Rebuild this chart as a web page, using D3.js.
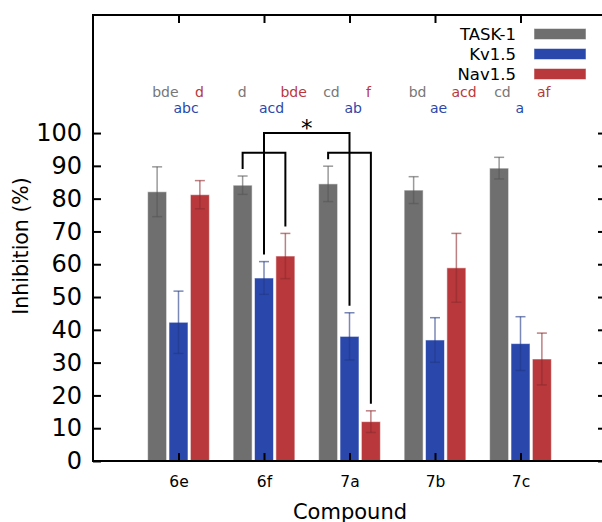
<!DOCTYPE html>
<html>
<head>
<meta charset="utf-8">
<script src="https://cdn.jsdelivr.net/npm/d3@7"></script>
<style>
  body { margin: 0; background: #fff; }
  text { font-family: "DejaVu Sans", sans-serif; }
</style>
</head>
<body>
<div id="chart"></div>
<script>
// compounds on the x axis
const compounds = ["6e", "6f", "7a", "7b", "7c"];
const seriesNames = ["TASK-1", "Kv1.5", "Nav1.5"];
const seriesColors = ["#6f6f6f", "#2a48ac", "#b8383b"];

// mean inhibition (%) and error per series
const task1 = [82.1, 84.1, 84.5, 82.6, 89.3];
const task1Err = [7.6, 2.8, 5.4, 4.1, 3.3];
const kv15 = [42.3, 55.8, 38.0, 36.9, 35.8];
const kv15Err = [9.5, 5.0, 7.2, 6.8, 8.2];
const nav15 = [81.2, 62.5, 12.0, 58.9, 31.1];
const nav15Err = [4.3, 6.9, 3.3, 10.5, 7.9];

// significance letters
const task1Letters = ["bde", "d", "cd", "bd", "cd"];
const kv15Letters = ["abc", "acd", "ab", "ae", "a"];
const nav15Letters = ["d", "bde", "f", "acd", "af"];

const yTicks = [0, 10, 20, 30, 40, 50, 60, 70, 80, 90, 100];

// brackets: [compound, series] -> [compound, series], bracket level (%)
const brackets = [
  { from: [1, 0], to: [1, 2], level: 94, star: false },
  { from: [2, 0], to: [2, 2], level: 94, star: false },
  { from: [1, 1], to: [2, 1], level: 100, star: true }
];

const W = 602, H = 522;
const mLeft = 93, mRight = 606, mTop = 15, mBottom = 461;

const svg = d3.select("#chart").append("svg")
  .attr("width", W)
  .attr("height", H);

const x = d3.scaleLinear().domain([0, 6]).range([mLeft, mRight]);
const y = d3.scaleLinear().domain([0, 136]).range([mBottom, mTop]);

const values = [task1, kv15, nav15];
const errs = [task1Err, kv15Err, nav15Err];
const letters = [task1Letters, kv15Letters, nav15Letters];
const offset = 0.25;               // series offset in category units
const barW = x(0.222) - x(0);

function barX(ci, si) { return x(ci + 1 + (si - 1) * offset); }

const bars = [];
values.forEach((vals, si) => {
  vals.forEach((v, ci) => bars.push({ ci, si, v, e: errs[si][ci] }));
});

// bars
svg.append("g").selectAll("rect")
  .data(bars)
  .join("rect")
  .attr("x", d => barX(d.ci, d.si) - barW / 2)
  .attr("y", d => y(d.v))
  .attr("width", barW)
  .attr("height", d => y(0) - y(d.v))
  .attr("fill", d => seriesColors[d.si])
  .attr("stroke", "#fff")
  .attr("stroke-opacity", 0.55)
  .attr("stroke-width", 1);

// error bars
const eg = svg.append("g").selectAll("g")
  .data(bars)
  .join("g")
  .attr("stroke", d => d3.color(seriesColors[d.si]).darker(0.7))
  .attr("stroke-opacity", 0.6)
  .attr("stroke-width", 1.5);
eg.append("line")
  .attr("x1", d => barX(d.ci, d.si)).attr("x2", d => barX(d.ci, d.si))
  .attr("y1", d => y(d.v + d.e)).attr("y2", d => y(d.v - d.e));
eg.append("line")
  .attr("x1", d => barX(d.ci, d.si) - 5).attr("x2", d => barX(d.ci, d.si) + 5)
  .attr("y1", d => y(d.v + d.e)).attr("y2", d => y(d.v + d.e));
eg.append("line")
  .attr("x1", d => barX(d.ci, d.si) - 5).attr("x2", d => barX(d.ci, d.si) + 5)
  .attr("y1", d => y(d.v - d.e)).attr("y2", d => y(d.v - d.e));

// axes
svg.append("g")
  .attr("transform", `translate(${mLeft},0)`)
  .call(d3.axisLeft(y).tickValues(yTicks).tickSize(-8).tickPadding(11))
  .call(g => g.select(".domain").remove())
  .call(g => g.selectAll("line").attr("stroke-width", 2))
  .call(g => g.selectAll("text").attr("font-size", 24).attr("font-family", "DejaVu Sans").attr("fill", "#000"));

svg.append("g")
  .attr("transform", `translate(${mRight},0)`)
  .call(d3.axisRight(y).tickValues(yTicks).tickSize(-8).tickFormat(""))
  .call(g => g.select(".domain").remove())
  .call(g => g.selectAll("line").attr("stroke-width", 2));

const xTickVals = compounds.map((c, i) => i + 1);
svg.append("g")
  .attr("transform", `translate(0,${mBottom})`)
  .call(d3.axisBottom(x).tickValues(xTickVals).tickSize(-8).tickPadding(15)
    .tickFormat((d, i) => compounds[i]))
  .call(g => g.select(".domain").remove())
  .call(g => g.selectAll("line").attr("stroke-width", 2))
  .call(g => g.selectAll("text").attr("font-size", 15.5).attr("font-family", "DejaVu Sans").attr("fill", "#000"));

svg.append("g")
  .attr("transform", `translate(0,${mTop})`)
  .call(d3.axisTop(x).tickValues(xTickVals).tickSize(-8).tickFormat(""))
  .call(g => g.select(".domain").remove())
  .call(g => g.selectAll("line").attr("stroke-width", 2));

// frame
svg.append("rect")
  .attr("x", mLeft).attr("y", mTop)
  .attr("width", mRight - mLeft).attr("height", mBottom - mTop)
  .attr("fill", "none")
  .attr("stroke", "#000")
  .attr("stroke-width", 2);

// axis titles
svg.append("text")
  .attr("transform", `translate(28,${(mTop + mBottom) / 2 + 8}) rotate(-90)`)
  .attr("text-anchor", "middle")
  .attr("font-size", 20.5)
  .text("Inhibition (%)");

svg.append("text")
  .attr("x", 350).attr("y", 518.5)
  .attr("text-anchor", "middle")
  .attr("font-size", 21)
  .text("Compound");

// significance letters
const rowY = [96.5, 112.5];
const lg = svg.append("g");
letters.forEach((arr, si) => {
  arr.forEach((t, ci) => {
    lg.append("text")
      .attr("x", barX(ci, si) - barW / 2 + 4.5)
      .attr("y", si === 1 ? rowY[1] : rowY[0])
      .attr("font-size", 14)
      .attr("fill", si === 0 ? "#777" : seriesColors[si])
      .text(t);
  });
});

// brackets
const gap = 7;
const bg = svg.append("g")
  .attr("fill", "none")
  .attr("stroke", "#000")
  .attr("stroke-width", 2);
brackets.forEach(b => {
  const [c1, s1] = b.from, [c2, s2] = b.to;
  const x1 = barX(c1, s1), x2 = barX(c2, s2);
  const y1 = y(values[s1][c1] + errs[s1][c1]) - gap;
  const y2 = y(values[s2][c2] + errs[s2][c2]) - gap;
  const yl = y(b.level);
  bg.append("path").attr("d", `M${x1},${y1}V${yl}H${x2}V${y2}`);
  if (b.star) {
    svg.append("text")
      .attr("x", (x1 + x2) / 2).attr("y", yl + 3)
      .attr("text-anchor", "middle")
      .attr("font-size", 23)
      .text("*");
  }
});

// legend
const legY = [34, 54, 74];
const leg = svg.append("g");
seriesNames.forEach((n, i) => {
  leg.append("text")
    .attr("x", 516).attr("y", legY[i])
    .attr("dy", "0.36em")
    .attr("text-anchor", "end")
    .attr("font-size", 16.5)
    .text(n);
  leg.append("rect")
    .attr("x", 534).attr("y", legY[i] - 5.5)
    .attr("width", 52).attr("height", 11)
    .attr("fill", seriesColors[i])
    .attr("stroke", "#fff").attr("stroke-opacity", 0.5);
});
</script>
</body>
</html>
